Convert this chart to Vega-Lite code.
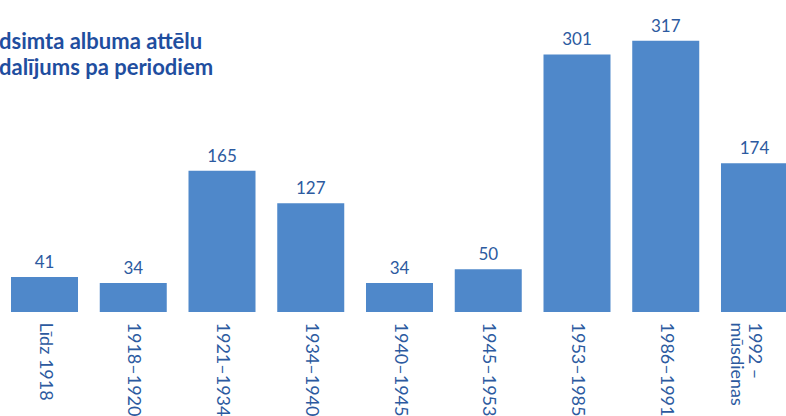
{
  "$schema": "https://vega.github.io/schema/vega-lite/v6.json",
  "width": 799,
  "height": 312,
  "autosize": {"type": "none"},
  "padding": {"top": 0, "left": 0, "right": 0, "bottom": 104},
  "background": "white",
  "title": {
    "text": ["dsimta albuma attēlu", "dalījums pa periodiem"],
    "orient": "top",
    "anchor": "start",
    "frame": "group",
    "baseline": "top",
    "dy": 84,
    "dx": -1,
    "font": "Lato",
    "fontSize": 22,
    "fontWeight": "bold",
    "color": "#1f4e9f",
    "lineHeight": 26
  },
  "data": {
    "values": [
      {"period": "Līdz 1918", "count": 41},
      {"period": "1918–1920", "count": 34},
      {"period": "1921–1934", "count": 165},
      {"period": "1934–1940", "count": 127},
      {"period": "1940–1945", "count": 34},
      {"period": "1945–1953", "count": 50},
      {"period": "1953–1985", "count": 301},
      {"period": "1986–1991", "count": 317},
      {"period": "1992 –\nmūsdienas", "count": 174}
    ]
  },
  "encoding": {
    "x": {
      "field": "period",
      "type": "nominal",
      "sort": null,
      "scale": {"paddingInner": 0.245, "paddingOuter": 0.124},
      "axis": {
        "title": null,
        "labelAngle": 90,
        "labelAlign": "left",
        "labelBaseline": "middle",
        "labelPadding": 10,
        "labelFont": "Lato",
        "labelFontSize": 18,
        "labelColor": "#2c5aa0",
        "labelExpr": "split(datum.label, '\\n')",
        "labelLineHeight": 18,
        "domain": false,
        "ticks": false,
        "grid": false,
        "labelOverlap": false,
        "labelBound": false
      }
    },
    "y": {
      "field": "count",
      "type": "quantitative",
      "scale": {"domain": [0, 364.7], "nice": false},
      "axis": null
    }
  },
  "layer": [
    {"mark": {"type": "bar", "color": "#4f88ca"}},
    {
      "mark": {
        "type": "text",
        "baseline": "bottom",
        "dy": -5,
        "font": "Lato",
        "fontSize": 17,
        "color": "#2c5aa0"
      },
      "encoding": {"text": {"field": "count", "type": "quantitative"}}
    }
  ],
  "config": {"view": {"stroke": null}}
}
